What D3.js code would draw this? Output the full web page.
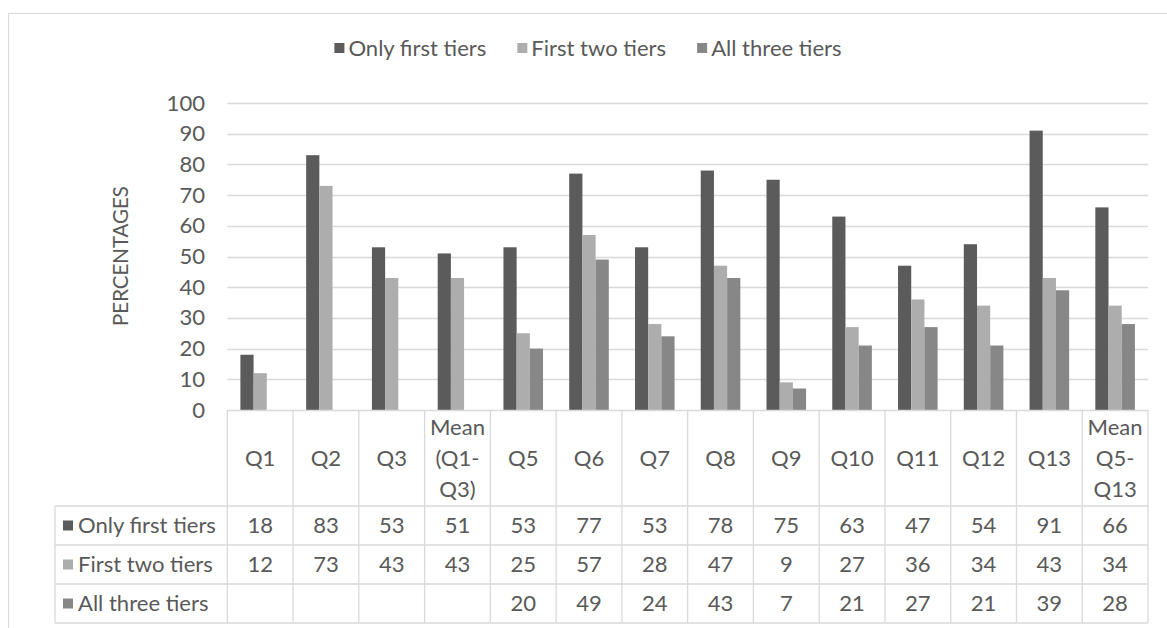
<!DOCTYPE html>
<html><head><meta charset="utf-8">
<script src="https://cdn.jsdelivr.net/npm/d3@7"></script>
<style>
html,body{margin:0;padding:0;background:#fff;}
svg{display:block;}
text{font-family:Lato,"Open Sans",sans-serif;fill:#595959;}
</style></head>
<body>
<svg id="chart" width="1167" height="628"></svg>
<script>
const categories = ["Q1","Q2","Q3","Mean\n(Q1-\nQ3)","Q5","Q6","Q7","Q8","Q9","Q10","Q11","Q12","Q13","Mean\nQ5-\nQ13"];
const seriesNames = ["Only first tiers","First two tiers","All three tiers"];
const onlyFirst = [18,83,53,51,53,77,53,78,75,63,47,54,91,66];
const firstTwo  = [12,73,43,43,25,57,28,47,9,27,36,34,43,34];
const allThree  = [null,null,null,null,20,49,24,43,7,21,27,21,39,28];
const yTicks = [0,10,20,30,40,50,60,70,80,90,100];
const yTitle = "PERCENTAGES";

const colors = ["#5b5b5b","#adadad","#878787"];
const series = [onlyFirst, firstTwo, allThree];

const svg = d3.select("#chart");
const W = 1167, H = 628;
const grid = "#d9d9d9";

// fit font size
function measure(txt, size){
  const t = svg.append("text").style("font-size", size+"px").text(txt);
  const w = t.node().getComputedTextLength(); t.remove(); return w;
}
const fs = 100 * 138 / measure("Only first tiers", 100);

// outer border
svg.append("rect").attr("x",8.5).attr("y",13.5).attr("width",1300).attr("height",800)
  .attr("fill","none").attr("stroke",grid).attr("stroke-width",1);

const x0 = 227.3, x1 = 1148;
const y = d3.scaleLinear().domain([0,100]).range([410,103]);
const x = d3.scaleBand().domain(categories).range([x0,x1]).paddingInner(0).paddingOuter(0);
const bw = x.bandwidth();
const barW = bw * 13.2/65.8;
const xs = d3.scaleBand().domain(d3.range(3)).range([(bw-3*barW)/2,(bw+3*barW)/2]);

// gridlines
svg.append("g").selectAll("line").data(yTicks.filter(d=>d>0)).join("line")
  .attr("x1",x0).attr("x2",x1).attr("y1",d=>Math.round(y(d))+0.5).attr("y2",d=>Math.round(y(d))+0.5)
  .attr("stroke",grid).attr("stroke-width",1.3);

// y axis labels via d3 axis
const yAxis = d3.axisLeft(y).tickValues(yTicks).tickSize(0).tickPadding(0);
const ya = svg.append("g").attr("transform","translate(205,0)").call(yAxis);
ya.select(".domain").remove();
ya.selectAll("text").style("font-size",fs+"px").style("font-family","Lato").attr("fill","#595959");

// y title
const ytFs = 100 * 140 / measure(yTitle, 100);
svg.append("text").attr("transform","translate(128,256) rotate(-90)")
  .attr("text-anchor","middle").style("font-size",ytFs+"px").text(yTitle);

// bars
series.forEach((vals,si)=>{
  svg.append("g").selectAll("rect").data(categories.map((c,i)=>({c,v:vals[i]})).filter(d=>d.v!=null))
    .join("rect")
    .attr("x",d=>x(d.c)+xs(si)).attr("width",xs.bandwidth())
    .attr("y",d=>y(d.v)).attr("height",d=>y(0)-y(d.v))
    .attr("fill",colors[si]);
});

// legend
const legY = 48;
const sq = 10, gapT = 4, gapItem = 31;
const widths = seriesNames.map(n=>measure(n,fs));
const total = d3.sum(widths.map(w=>sq+gapT+w)) + gapItem*2;
let lx = 588 - total/2;
seriesNames.forEach((n,i)=>{
  svg.append("rect").attr("x",lx).attr("y",legY-sq/2).attr("width",sq).attr("height",sq).attr("fill",colors[i]);
  svg.append("text").attr("x",lx+sq+gapT).attr("y",legY).attr("dy","0.35em").style("font-size",fs+"px").text(n);
  lx += sq+gapT+widths[i]+gapItem;
});

// data table
const tTop = 410, catBottom = 506, rowH = (623-506)/3, tLeft = 55;
const rowsY = [catBottom, catBottom+rowH, catBottom+2*rowH, catBottom+3*rowH];
const tb = svg.append("g");
tb.append("line").attr("x1",x0).attr("x2",x1).attr("y1",tTop+0.5).attr("y2",tTop+0.5).attr("stroke",grid).attr("stroke-width",1.3);
rowsY.forEach(yy=>{
  tb.append("line").attr("x1",tLeft).attr("x2",x1).attr("y1",yy).attr("y2",yy).attr("stroke",grid).attr("stroke-width",1.3);
});
tb.append("line").attr("x1",tLeft).attr("x2",tLeft).attr("y1",catBottom).attr("y2",rowsY[3]).attr("stroke",grid).attr("stroke-width",1.3);
const edges = categories.map(c=>x(c)).concat([x1]);
tb.selectAll(".vl").data(edges).join("line").attr("class","vl")
  .attr("x1",d=>d).attr("x2",d=>d).attr("y1",tTop).attr("y2",rowsY[3]).attr("stroke",grid).attr("stroke-width",1.3);

// category labels
const lineH = 31;
categories.forEach(c=>{
  const lines = c.split("\n");
  const cy = (tTop+catBottom)/2;
  const t = tb.append("text").attr("text-anchor","middle").style("font-size",fs+"px");
  lines.forEach((ln,k)=>{
    t.append("tspan").attr("x",x(c)+bw/2).attr("y",cy+(k-(lines.length-1)/2)*lineH).attr("dy","0.35em").text(ln);
  });
});

// row headers and values
series.forEach((vals,si)=>{
  const cy = rowsY[si]+rowH/2;
  tb.append("rect").attr("x",63).attr("y",cy-sq/2).attr("width",sq).attr("height",sq).attr("fill",colors[si]);
  tb.append("text").attr("x",63+sq+5).attr("y",cy).attr("dy","0.35em").style("font-size",fs+"px").text(seriesNames[si]);
  categories.forEach((c,i)=>{
    if(vals[i]==null) return;
    tb.append("text").attr("x",x(c)+bw/2).attr("y",cy).attr("dy","0.35em").attr("text-anchor","middle")
      .style("font-size",fs+"px").text(vals[i]);
  });
});
</script>
</body></html>
